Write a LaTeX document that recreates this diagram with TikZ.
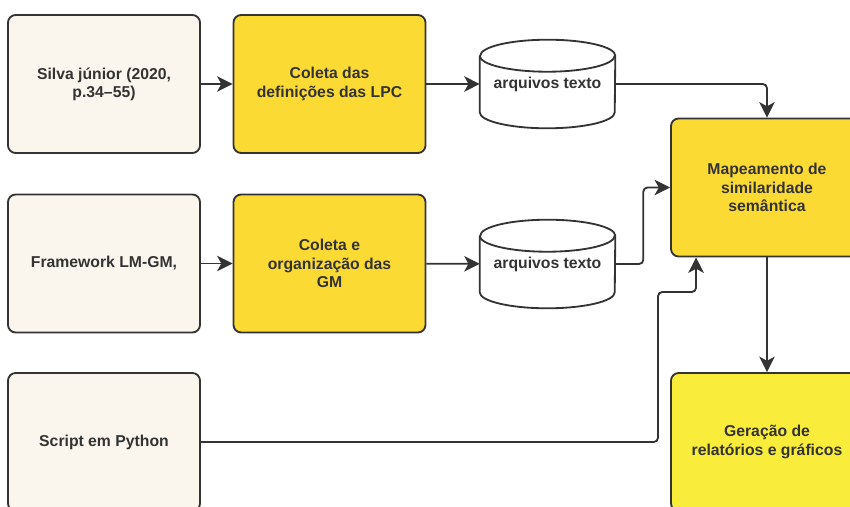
\documentclass[tikz,border=0pt]{standalone}
\usepackage{fontspec}
\setmainfont{Liberation Sans}
\usepackage{tikz}
\usetikzlibrary{
  arrows.meta,
  backgrounds,
  calc,
  positioning
}
\definecolor{paper}{RGB}{250,246,238}
\definecolor{ink}{RGB}{51,51,51}
\definecolor{gold}{RGB}{252,218,52}
\definecolor{lemon}{RGB}{250,236,58}
\tikzset{>={Stealth[length=11pt,width=11pt,inset=3pt]}}
\tikzset{
  label font/.style={text=ink, font=\fontsize{11.2}{13}\selectfont\bfseries},
  box/.style={draw=ink, line width=1.3pt, rounded corners=5.5pt,
    minimum width=4.8cm, minimum height=3.45cm, align=center, label font},
  source/.style={box, fill=paper},
  task/.style={box, fill=gold},
  store/.style={rectangle, inner sep=0pt, minimum width=3.375cm,
    minimum height=2.2cm, label font},
  drum/.style={draw=ink, line width=1.3pt, fill=white},
  link/.style={->, draw=ink, line width=1.3pt, rounded corners=3pt}
}
% outline of a text-file drum round a store node
\newcommand\drumoutline[1]{%
  \draw[drum] ([yshift=-0.4cm]#1.north west) -- ([yshift=0.4cm]#1.south west)
    arc[start angle=180, end angle=360, x radius=1.6875cm, y radius=0.4cm]
    -- ([yshift=-0.4cm]#1.north east)
    arc[start angle=0, end angle=180, x radius=1.6875cm, y radius=0.4cm];
  \draw[drum, fill=none] ([yshift=-0.4cm]#1.north west)
    arc[start angle=180, end angle=360, x radius=1.6875cm, y radius=0.4cm];
}

\begin{document}
\begin{tikzpicture}[x=0.025cm, y=-0.025cm]
  \useasboundingbox (0,0) rectangle (850,507);
  \clip (0,0) rectangle (850,507);
  % sources on the left
  \node[source] (silva) at (104,84) {Silva júnior (2020,\\p.34--55)};
  \node[source] (lmgm) at (104,263.5) {Framework LM-GM,};
  \node[source] (script) at (104,442) {Script em Python};
  % collection steps
  \node[task] (defs) at (329.5,84) {Coleta das\\definições das LPC};
  \node[task] (gms) at (329.5,263.5) {Coleta e\\organização das\\GM};
  % text files
  \node[store] (txta) at (547.5,84) {arquivos texto};
  \node[store] (txtb) at (547.5,264) {arquivos texto};
  \begin{scope}[on background layer]
    \drumoutline{txta}
    \drumoutline{txtb}
  \end{scope}
  % mapping and output
  \node[task] (map) at (767,187.5) {Mapeamento de\\similaridade\\semântica};
  \node[task, fill=lemon] (report) at (767,442) {Geração de\\relatórios e gráficos};

  \draw[link] (silva) -- (defs);
  \draw[link] (lmgm) -- (gms);
  \draw[link] (defs) -- (txta);
  \draw[link] (gms) -- (txtb);
  \draw[link] (txta.east) -| (map.north);
  \draw[link] (txtb.east) -- ++(28,0) |- (map.west);
  \coordinate (bend) at (658,292);
  \draw[link] (script.east) -| (bend) -| ([xshift=0.65cm]map.south west);
  \draw[link] (map) -- (report);
\end{tikzpicture}
\end{document}
